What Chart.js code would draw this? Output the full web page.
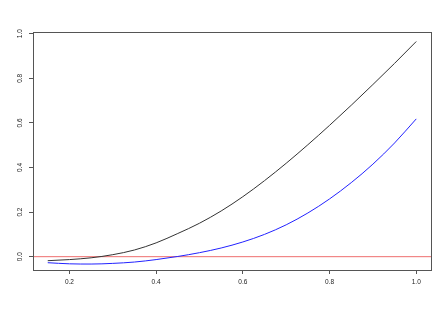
<!DOCTYPE html>
<html>
<head>
<meta charset="utf-8">
<script src="https://cdn.jsdelivr.net/npm/chart.js@4.4.1/dist/chart.umd.min.js"></script>
<style>
  html, body { margin: 0; padding: 0; background: #fff; }
  #wrap { width: 448px; height: 311px; }
</style>
</head>
<body>
<div id="wrap"><canvas id="grafico"></canvas></div>
<script>
// valores
const xs = [0.15, 0.20, 0.25, 0.30, 0.35, 0.40, 0.45, 0.50, 0.55, 0.60, 0.65, 0.70, 0.75, 0.80, 0.85, 0.90, 0.95, 1.00];
const curvaPreta = [-0.018, -0.013, -0.005, 0.009, 0.030, 0.062, 0.104, 0.150, 0.205, 0.269, 0.341, 0.419, 0.502, 0.589, 0.679, 0.772, 0.867, 0.965];
const curvaAzul = [-0.027, -0.032, -0.033, -0.030, -0.024, -0.013, 0.001, 0.018, 0.039, 0.066, 0.100, 0.143, 0.196, 0.259, 0.332, 0.415, 0.510, 0.618];
const linhaZero = 0;
const ticksX = [0.2, 0.4, 0.6, 0.8, 1.0];
const ticksY = [0.0, 0.2, 0.4, 0.6, 0.8, 1.0];
const limX = [0.116, 1.034];
const limY = [-0.0597, 1.0076];

const fonte = '"Liberation Sans", Arial, sans-serif';

function pontos(valores) {
  return xs.map((x, i) => ({ x: x, y: valores[i] }));
}

// caixa em volta do grafico e rotulos do eixo y girados (estilo R)
const caixaPlugin = {
  id: 'caixa',
  afterDraw(chart) {
    const ctx = chart.ctx;
    const a = chart.chartArea;
    const y = chart.scales.y;
    ctx.save();
    ctx.strokeStyle = '#555';
    ctx.lineWidth = 1;
    ctx.strokeRect(Math.round(a.left) + 0.5, Math.round(a.top) + 0.5,
      Math.round(a.right - a.left), Math.round(a.bottom - a.top));
    ctx.fillStyle = '#222';
    ctx.font = '6.5px ' + fonte;
    ctx.textAlign = 'center';
    ctx.textBaseline = 'middle';
    ticksY.forEach(v => {
      const py = y.getPixelForValue(v);
      ctx.save();
      ctx.translate(20.5, py);
      ctx.rotate(-Math.PI / 2);
      ctx.fillText(v.toFixed(1), 0, 0);
      ctx.restore();
    });
    ctx.restore();
  }
};

const grafico = new Chart(document.getElementById('grafico'), {
  type: 'line',
  data: {
    datasets: [
      {
        data: pontos(curvaPreta),
        borderColor: '#333',
        borderWidth: 1,
        pointRadius: 0,
        cubicInterpolationMode: 'monotone'
      },
      {
        data: pontos(curvaAzul),
        borderColor: '#2222ff',
        borderWidth: 1,
        pointRadius: 0,
        cubicInterpolationMode: 'monotone'
      },
      {
        data: [{ x: limX[0], y: linhaZero }, { x: limX[1], y: linhaZero }],
        borderColor: '#ee6f6f',
        borderWidth: 1,
        pointRadius: 0
      }
    ]
  },
  options: {
    responsive: true,
    maintainAspectRatio: false,
    animation: false,
    layout: { padding: { left: 29, right: 17, top: 32, bottom: 0 } },
    plugins: { legend: { display: false }, tooltip: { enabled: false } },
    scales: {
      x: {
        type: 'linear',
        min: limX[0],
        max: limX[1],
        afterBuildTicks: s => { s.ticks = ticksX.map(v => ({ value: v })); },
        grid: { display: true, drawOnChartArea: false, drawTicks: true, tickLength: 4, color: '#555' },
        border: { display: false },
        ticks: {
          autoSkip: false,
          maxRotation: 0,
          padding: 4,
          color: '#222',
          font: { family: fonte, size: 6.5 },
          callback: v => Number(v).toFixed(1)
        }
      },
      y: {
        type: 'linear',
        min: limY[0],
        max: limY[1],
        afterBuildTicks: s => { s.ticks = ticksY.map(v => ({ value: v })); },
        grid: { display: true, drawOnChartArea: false, drawTicks: true, tickLength: 4, color: '#555' },
        border: { display: false },
        ticks: { display: false }
      }
    }
  },
  plugins: [caixaPlugin]
});

// ajusta o fundo do grafico para o tamanho pedido
grafico.options.layout.padding.bottom = 311 - 270 - grafico.scales.x.height;
grafico.update();
</script>
</body>
</html>
